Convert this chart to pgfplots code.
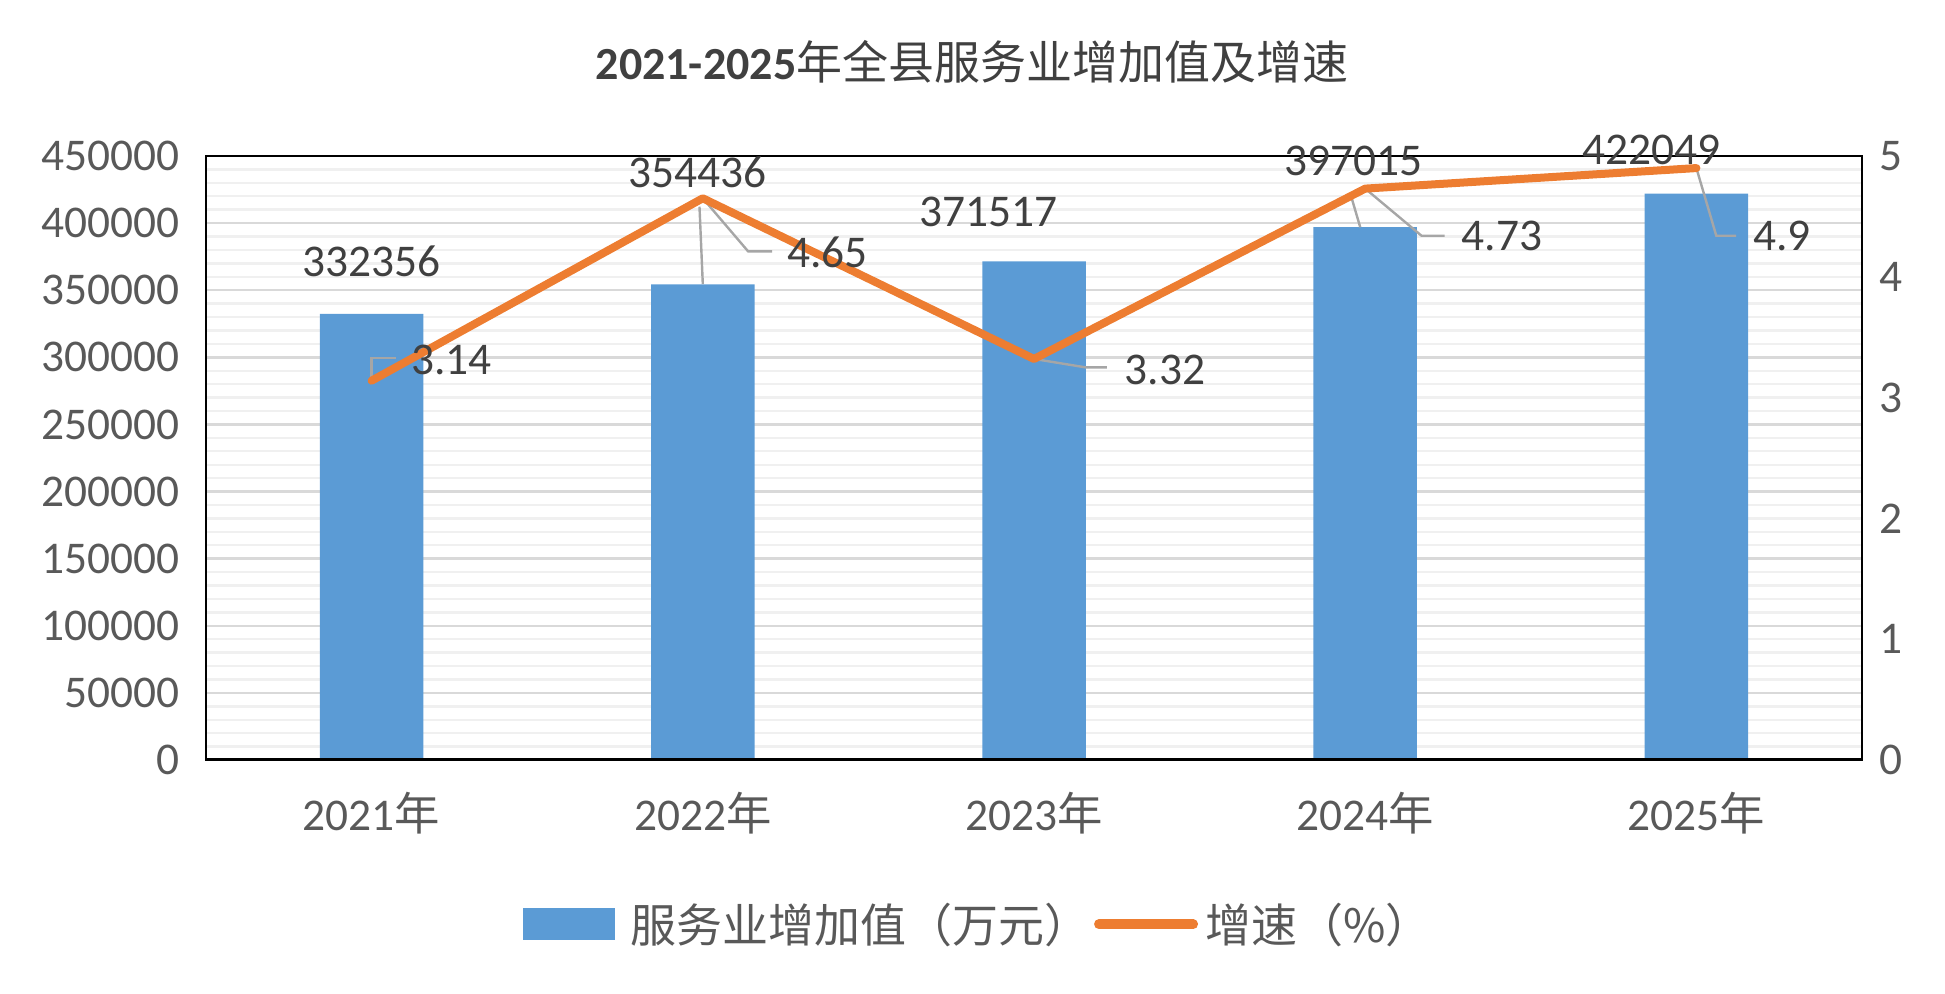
\documentclass[border=0pt]{standalone}
\usepackage{fontspec}
\setmainfont{Carlito}
\newfontfamily\cjk{Noto Sans CJK SC}
\usepackage{pgfplots}
\pgfplotsset{compat=1.18}
\definecolor{barblue}{HTML}{5B9BD5}
\definecolor{lineor}{HTML}{ED7D31}
\definecolor{tickgray}{HTML}{595959}
\definecolor{labgray}{HTML}{404040}
\definecolor{leadgray}{HTML}{A6A6A6}
\definecolor{gridmaj}{HTML}{D9D9D9}
\definecolor{gridmin}{HTML}{F0F0F0}
\newcommand{\bigf}{\fontsize{22.7}{26}\selectfont}
\newcommand{\legf}{\fontsize{23}{27}\selectfont}
\begin{document}
\begin{tikzpicture}
\path[use as bounding box] (0,0) rectangle (972.5pt,497pt);
\node[font=\fontsize{23}{27}\selectfont, text=labgray] at (486pt,466pt) {\textbf{2021-2025}{\cjk 年全县服务业增加值及增速}};
\begin{axis}[
  at={(103pt,117pt)}, anchor=south west,
  width=828pt, height=302pt, scale only axis,
  ybar, bar width=51.75pt,
  xmin=-0.5, xmax=4.5, ymin=0, ymax=450000,
  xtick={0,1,2,3,4},
  xticklabels={2021{\cjk 年},2022{\cjk 年},2023{\cjk 年},2024{\cjk 年},2025{\cjk 年}},
  ytick={0,50000,100000,150000,200000,250000,300000,350000,400000,450000},
  minor y tick num=4,
  ymajorgrids, yminorgrids,
  major grid style={gridmaj, line width=1.2pt},
  minor grid style={gridmin, line width=1.2pt},
  major tick length=0pt, minor tick length=0pt,
  axis line style={black, line width=1.3pt},
  scaled y ticks=false,
  yticklabel style={font=\bigf, text=tickgray, xshift=-9.5pt,
    /pgf/number format/.cd, fixed, 1000 sep={}, assume math mode=true},
  xticklabel style={font=\bigf, text=tickgray, anchor=center, yshift=-26.5pt},
]
\addplot[fill=barblue, draw=none] coordinates {(0,332356) (1,354436) (2,371517) (3,397015) (4,422049)};
\draw[black, line width=2.2pt] (rel axis cs:0,0) -- (rel axis cs:1,0);
\end{axis}
\begin{axis}[
  at={(103pt,117pt)}, anchor=south west,
  width=828pt, height=302pt, scale only axis,
  xmin=-0.5, xmax=4.5, ymin=0, ymax=5,
  hide x axis,
  axis line style={draw=none},
  yticklabel pos=right,
  ytick={0,1,2,3,4,5},
  major tick length=0pt,
  yticklabel style={font=\bigf, text=tickgray, xshift=5pt, anchor=west,
    /pgf/number format/assume math mode=true},
  clip=false,
  legend style={at={(0.467,-0.272)}, anchor=center, draw=none, fill=none,
    font=\legf\cjk, text=tickgray, legend columns=-1,
    /tikz/every even column/.append style={column sep=0pt}},
]
\addlegendimage{legend image code/.code={\fill[barblue] (0pt,-7.75pt) rectangle (45.5pt,7.75pt); \path (51pt,0pt);}}
\draw[leadgray, line width=1.2pt] (axis cs:0,3.14) -- (axis cs:0,3.33) -- (axis cs:0.075,3.33);
\draw[leadgray, line width=1.2pt] (axis cs:1,4.65) -- (axis cs:1.137,4.21) -- (axis cs:1.209,4.21);
\draw[leadgray, line width=1.2pt] (axis cs:1.0,3.94) -- (axis cs:0.99,4.58);
\draw[leadgray, line width=1.2pt] (axis cs:2,3.32) -- (axis cs:2.156,3.25) -- (axis cs:2.22,3.25);
\draw[leadgray, line width=1.2pt] (axis cs:3,4.73) -- (axis cs:3.17,4.34) -- (axis cs:3.24,4.34);
\draw[leadgray, line width=1.2pt] (axis cs:2.985,4.41) -- (axis cs:2.955,4.69);
\draw[leadgray, line width=1.2pt] (axis cs:4,4.9) -- (axis cs:4.06,4.34) -- (axis cs:4.12,4.34);
\addplot[lineor, line width=4pt, line join=round, line cap=round, mark=none,
  legend image code/.code={\draw[lineor, line width=4.8pt, line cap=round] (2.4pt,0pt) -- (49.6pt,0pt); \path (51.5pt,0pt);}]
  coordinates {(0,3.14) (1,4.65) (2,3.32) (3,4.73) (4,4.9)};
\legend{服务业增加值（万元）,增速（\%）}
\node[font=\bigf, text=labgray] at (axis cs:0,4.13) {332356};
\node[font=\bigf, text=labgray] at (axis cs:0.983,4.866) {354436};
\node[font=\bigf, text=labgray] at (axis cs:1.862,4.54) {371517};
\node[font=\bigf, text=labgray] at (axis cs:2.965,4.96) {397015};
\node[font=\bigf, text=labgray] at (axis cs:3.863,5.05) {422049};
\node[font=\bigf, text=labgray, anchor=west, inner sep=0pt] at (axis cs:0.118,3.31) {3.14};
\node[font=\bigf, text=labgray, anchor=west, inner sep=0pt] at (axis cs:1.254,4.20) {4.65};
\node[font=\bigf, text=labgray, anchor=west, inner sep=0pt] at (axis cs:2.273,3.23) {3.32};
\node[font=\bigf, text=labgray, anchor=west, inner sep=0pt] at (axis cs:3.29,4.34) {4.73};
\node[font=\bigf, text=labgray, anchor=west, inner sep=0pt] at (axis cs:4.17,4.34) {4.9};
\end{axis}
\end{tikzpicture}
\end{document}
